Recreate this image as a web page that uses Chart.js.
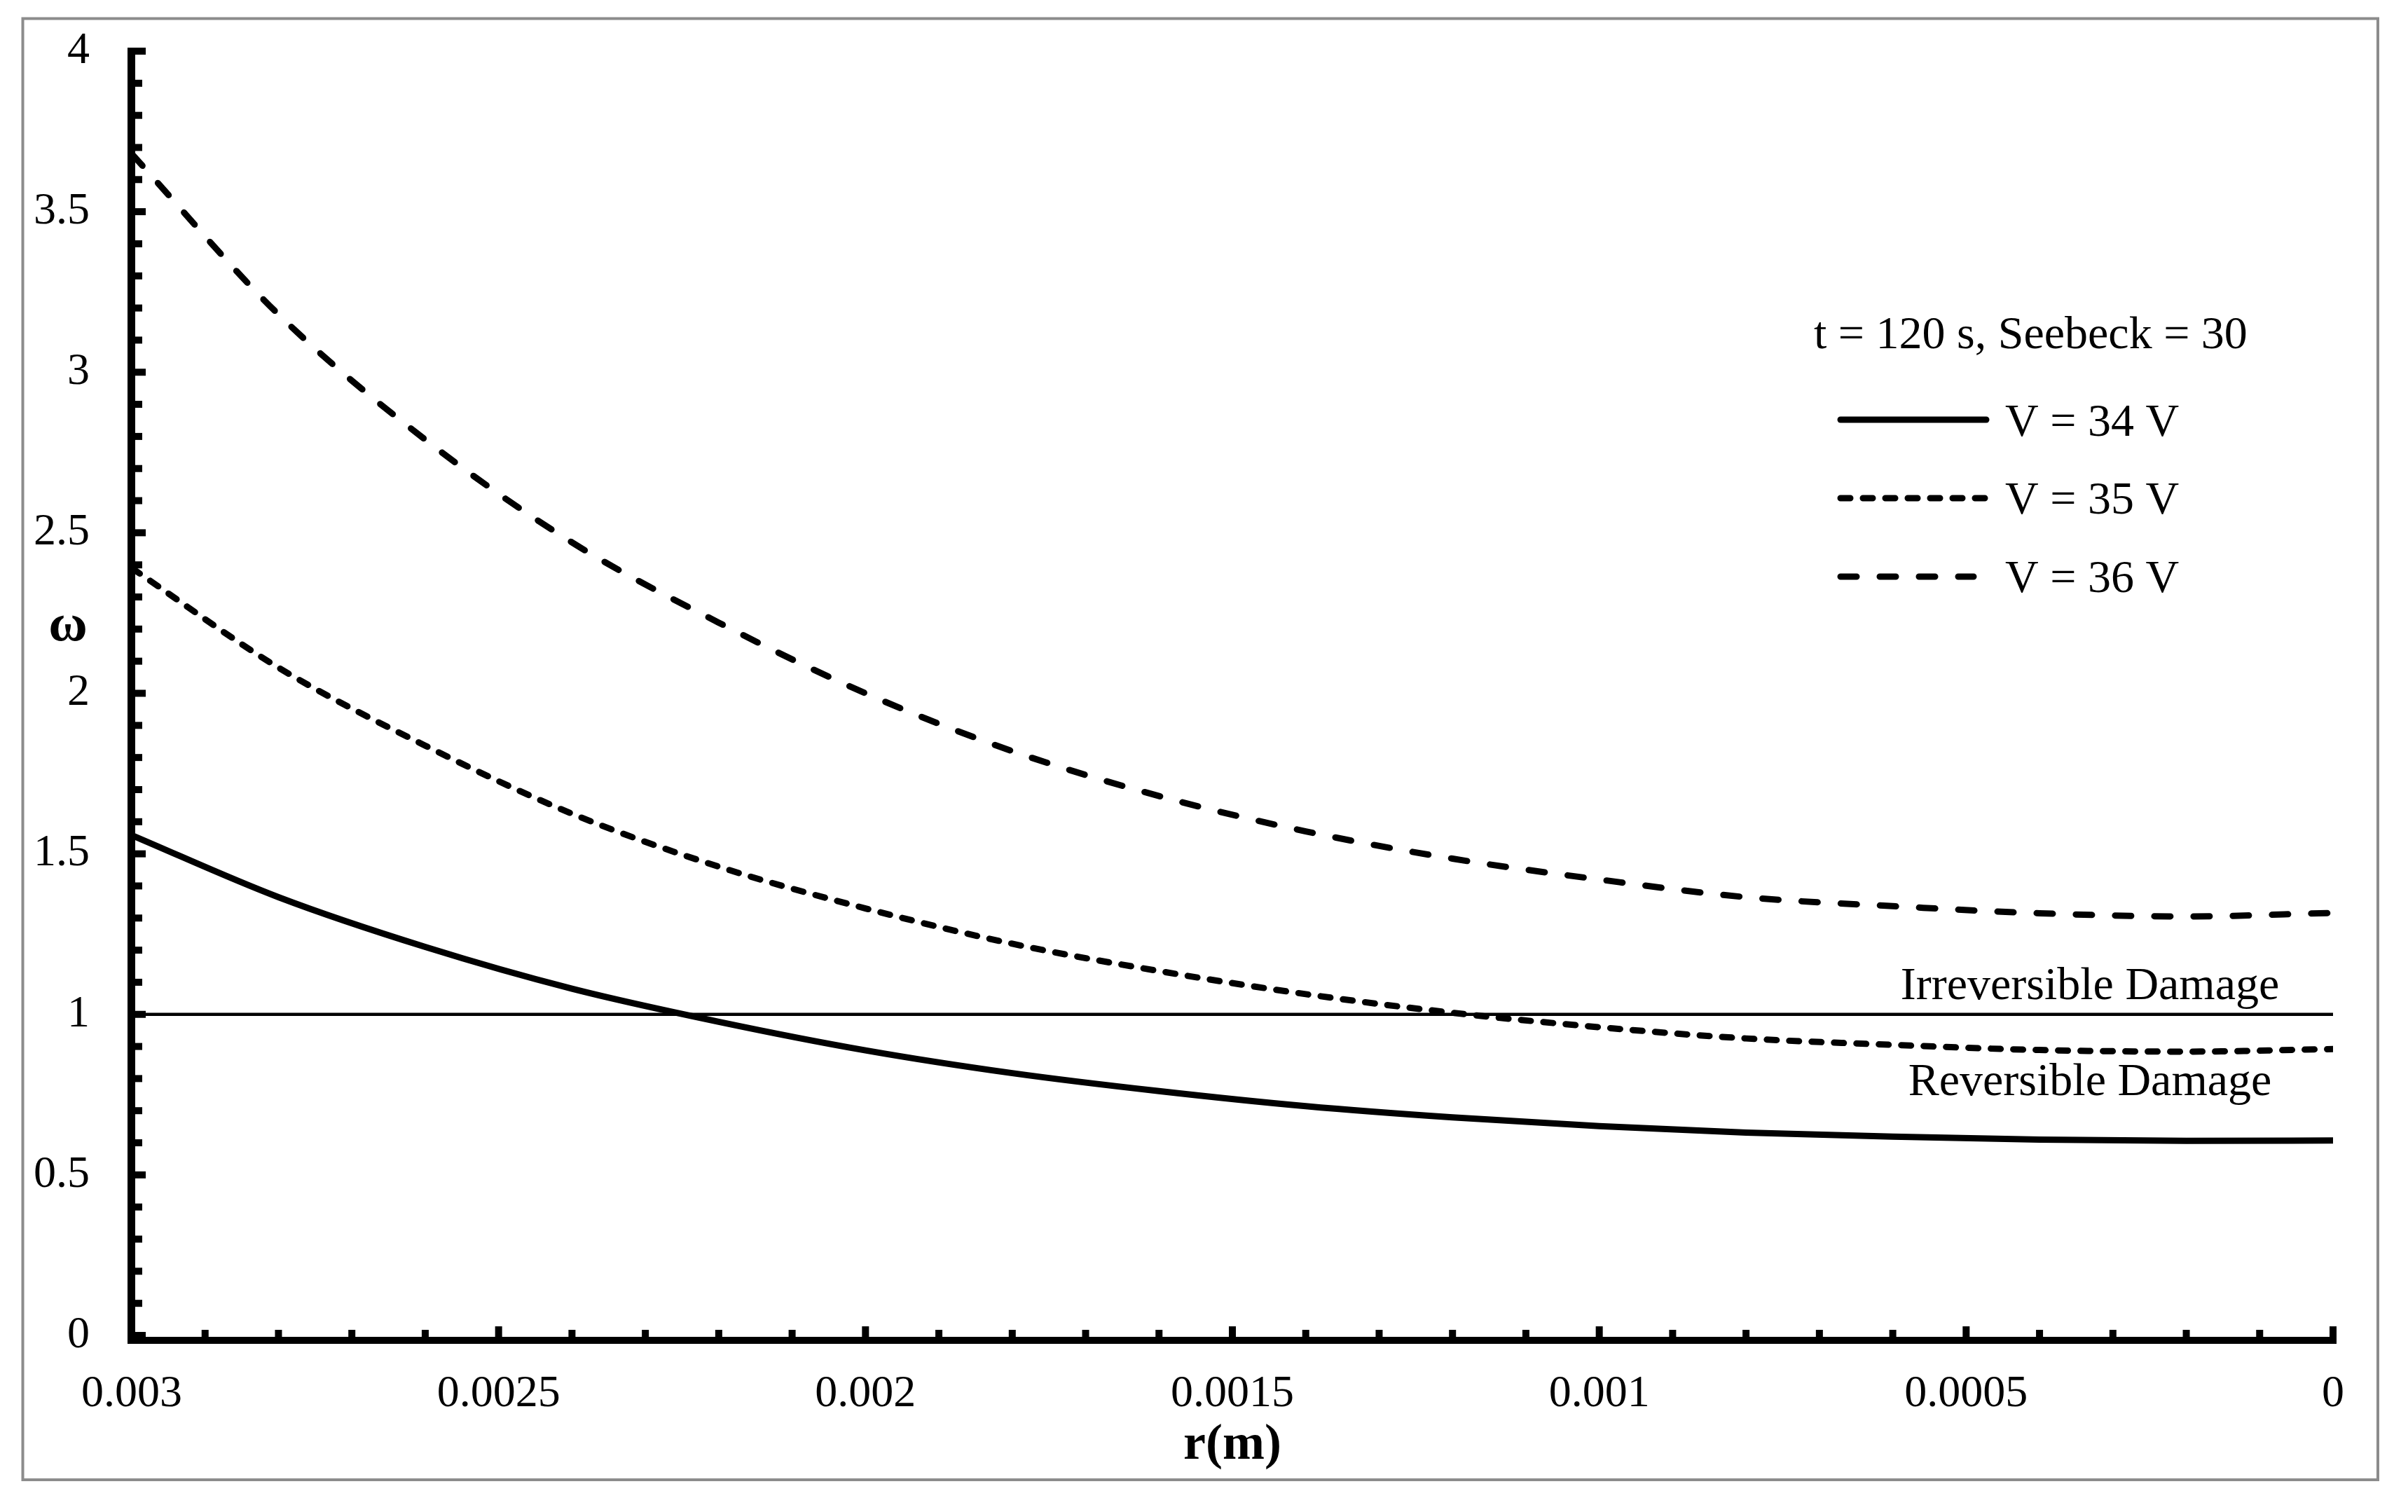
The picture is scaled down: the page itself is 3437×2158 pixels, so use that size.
<!DOCTYPE html>
<html>
<head>
<meta charset="utf-8">
<title>omega vs r</title>
<script src="https://cdn.jsdelivr.net/npm/chart.js@4.4.1/dist/chart.umd.min.js"></script>
<style>
  html, body { margin: 0; padding: 0; background: #fff; }
  #wrap { width: 3437px; height: 2158px; }
</style>
</head>
<body>
<div id="wrap"><canvas id="myChart" width="3437" height="2158"></canvas></div>
<script>
// radius (m), outer edge first, centre last
var rValues = [0.003, 0.0028, 0.0026, 0.0024, 0.0022, 0.002, 0.0018, 0.0016, 0.0014, 0.0012, 0.001, 0.0008, 0.0006, 0.0004, 0.0002, 0];

// damage index omega for each voltage
var omegaV34 = [1.558, 1.365, 1.21, 1.08, 0.977, 0.888, 0.817, 0.761, 0.714, 0.679, 0.652, 0.632, 0.619, 0.610, 0.606, 0.607];
var omegaV35 = [2.39, 2.08, 1.837, 1.625, 1.46, 1.33, 1.22, 1.135, 1.063, 1.005, 0.96, 0.925, 0.905, 0.889, 0.884, 0.892];
var omegaV36 = [3.68, 3.18, 2.79, 2.47, 2.22, 2.00, 1.82, 1.68, 1.57, 1.485, 1.42, 1.365, 1.337, 1.315, 1.305, 1.316];

// irreversible damage threshold
var thresholdR = [0.003, 0];
var thresholdOmega = [1, 1];

var seriesLabels = ["V = 34 V", "V = 35 V", "V = 36 V"];
var legendTitle = "t = 120 s, Seebeck = 30";

// axis ticks
var xTickValues = [0.003, 0.0025, 0.002, 0.0015, 0.001, 0.0005, 0];
var xTickLabels = ["0.003", "0.0025", "0.002", "0.0015", "0.001", "0.0005", "0"];
var yTickValues = [0, 0.5, 1, 1.5, 2, 2.5, 3, 3.5, 4];
var yTickLabels = ["0", "0.5", "1", "1.5", "2", "2.5", "3", "3.5", "4"];

var FONT = "'Liberation Serif', 'Times New Roman', serif";

function toPoints(xs, ys) {
    var pts = [];
    for (let i = 0; i < xs.length; i++) {
        pts.push({ x: xs[i], y: ys[i] });
    }
    return pts;
}

function labelFor(value, values, labels) {
    for (let i = 0; i < values.length; i++) {
        if (Math.abs(values[i] - value) < 1e-9) return labels[i];
    }
    return "";
}

// frame, axes with inward ticks, legend and the text notes
var decorPlugin = {
    id: "decor",
    beforeDraw: function (chart) {
        var ctx = chart.ctx;
        ctx.save();
        ctx.fillStyle = "#fff";
        ctx.fillRect(0, 0, chart.width, chart.height);
        ctx.strokeStyle = "#8c8c8c";
        ctx.lineWidth = 4;
        ctx.strokeRect(32.5, 26.5, 3361.5, 2085.5);
        ctx.restore();
    },
    afterDraw: function (chart) {
        var ctx = chart.ctx;
        var xs = chart.scales.x;
        var ys = chart.scales.y;
        var left = xs.getPixelForValue(0.003);
        var right = xs.getPixelForValue(0);
        var top = ys.getPixelForValue(4);
        var bottom = ys.getPixelForValue(0);

        ctx.save();
        ctx.fillStyle = "#000";

        // axis lines
        ctx.fillRect(left - 6, top - 5, 11, bottom - top + 17);
        ctx.fillRect(left - 6, bottom + 2, right - left + 11, 10);

        // y ticks every 0.1, longer on the 0.5 steps
        for (let i = 0; i <= 40; i++) {
            var py = ys.getPixelForValue(i / 10);
            var ly = (i % 5 === 0) ? 15 : 10;
            ctx.fillRect(left + 5, py - 5, ly, 10);
        }
        // x ticks every 0.0001, longer on the 0.0005 steps
        for (let i = 0; i <= 30; i++) {
            var px = xs.getPixelForValue(i / 10000);
            var lx = (i % 5 === 0) ? 15 : 10;
            ctx.fillRect(px - 5, bottom + 2 - lx, 10, lx);
        }

        // axis titles
        ctx.textBaseline = "alphabetic";
        ctx.textAlign = "center";
        ctx.font = "bold 76px " + FONT;
        ctx.fillText("\u03c9", 97, 914);
        ctx.font = "bold 72px " + FONT;
        ctx.fillText("r(m)", (left + right) / 2, 2082);

        // damage notes around the threshold
        ctx.font = "66px " + FONT;
        ctx.fillText("Irreversible Damage", 2983, 1426);
        ctx.fillText("Reversible Damage", 2983, 1563);

        // legend
        ctx.textAlign = "left";
        ctx.fillText(legendTitle, 2589, 497);
        var rowLine = [599, 711, 823];
        var rowText = [622, 733, 845];
        var lineEnd = [2835, 2835, 2817];
        for (let k = 0; k < 3; k++) {
            var ds = chart.data.datasets[k];
            ctx.strokeStyle = "#000";
            ctx.lineWidth = ds.borderWidth;
            ctx.lineCap = "round";
            ctx.setLineDash(ds.borderDash || []);
            ctx.beginPath();
            ctx.moveTo(2627, rowLine[k]);
            ctx.lineTo(lineEnd[k], rowLine[k]);
            ctx.stroke();
            ctx.setLineDash([]);
            ctx.fillText(seriesLabels[k], 2862, rowText[k]);
        }
        ctx.restore();
    }
};

Chart.defaults.font.family = FONT;
Chart.defaults.color = "#000";

new Chart("myChart", {
    type: "scatter",
    data: {
        datasets: [{
            label: seriesLabels[0],
            data: toPoints(rValues, omegaV34),
            borderColor: "#000",
            borderWidth: 9,
            borderCapStyle: "round",
            showLine: true,
            pointRadius: 0,
            cubicInterpolationMode: "monotone"
        }, {
            label: seriesLabels[1],
            data: toPoints(rValues, omegaV35),
            borderColor: "#000",
            borderWidth: 9,
            borderDash: [14, 18],
            borderCapStyle: "round",
            showLine: true,
            pointRadius: 0,
            cubicInterpolationMode: "monotone"
        }, {
            label: seriesLabels[2],
            data: toPoints(rValues, omegaV36),
            borderColor: "#000",
            borderWidth: 9,
            borderDash: [23, 33],
            borderCapStyle: "round",
            showLine: true,
            pointRadius: 0,
            cubicInterpolationMode: "monotone"
        }, {
            label: "threshold",
            data: toPoints(thresholdR, thresholdOmega),
            borderColor: "#000",
            borderWidth: 4.5,
            showLine: true,
            pointRadius: 0
        }]
    },
    options: {
        responsive: false,
        animation: false,
        devicePixelRatio: 1,
        layout: { padding: { top: 73, right: 107, left: 0, bottom: 0 } },
        plugins: {
            legend: { display: false },
            tooltip: { enabled: false }
        },
        scales: {
            x: {
                type: "linear",
                min: 0,
                max: 0.003,
                reverse: true,
                grid: { display: false, drawTicks: false },
                border: { display: false },
                afterBuildTicks: function (scale) {
                    scale.ticks = xTickValues.map(v => ({ value: v }));
                },
                afterFit: function (scale) { scale.height = 252; },
                ticks: {
                    autoSkip: false,
                    maxRotation: 0,
                    padding: 46,
                    font: { size: 64 },
                    callback: function (value) { return labelFor(value, xTickValues, xTickLabels); }
                }
            },
            y: {
                type: "linear",
                min: 0,
                max: 4,
                grid: { display: false, drawTicks: false },
                border: { display: false },
                afterBuildTicks: function (scale) {
                    scale.ticks = yTickValues.map(v => ({ value: v }));
                },
                afterFit: function (scale) {
                    scale.width = 188;
                    // the tick padding is horizontal only here
                    scale.paddingTop = 0;
                    scale.paddingBottom = 0;
                },
                ticks: {
                    padding: 60,
                    font: { size: 64 },
                    callback: function (value) { return labelFor(value, yTickValues, yTickLabels); }
                }
            }
        }
    },
    plugins: [decorPlugin]
});
</script>
</body>
</html>
